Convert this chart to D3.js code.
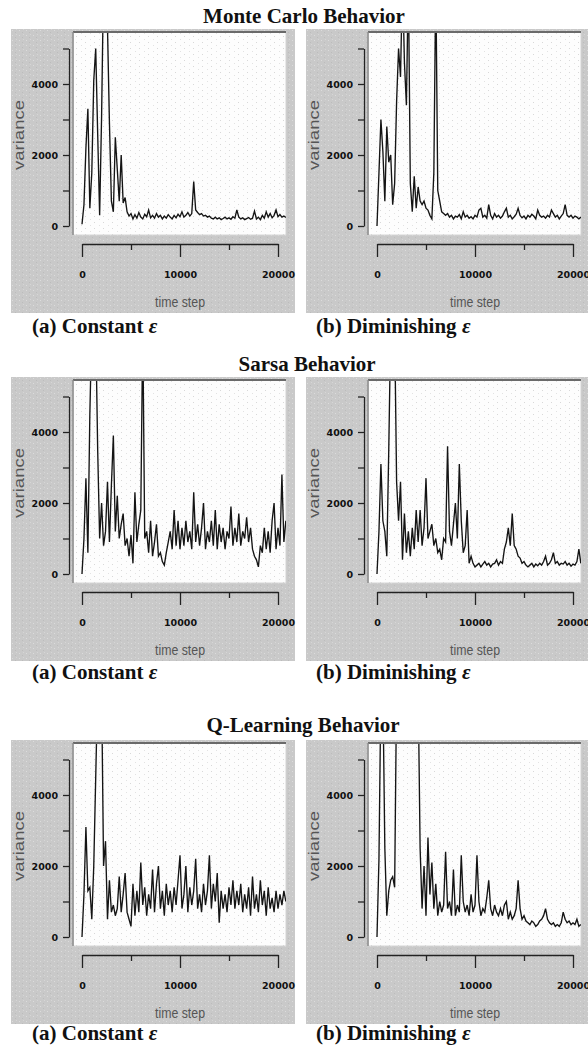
<!DOCTYPE html>
<html>
<head>
<meta charset="utf-8">
<script src="https://cdn.jsdelivr.net/npm/d3@7"></script>
<style>
  body { margin: 0; background: #fff; }
</style>
</head>
<body>
<div id="chart"></div>
<script>
const sampleEvery = 200

const mcConstant = [
  50, 600, 2200, 3300, 500, 1500, 4100, 5000, 2600, 300,
  3100, 7000, 7000, 5600, 2900, 700, 400, 2500, 1600, 700,
  2000, 650, 800, 400, 280, 350, 200, 320, 220, 380,
  250, 200, 330, 260, 450, 230, 300, 220, 350, 250,
  300, 200, 280, 220, 320, 250, 200, 300, 230, 330,
  260, 400, 250, 300, 380, 280, 350, 1250, 450, 380,
  320, 350, 280, 300, 250, 280, 220, 200, 250, 200,
  230, 180, 210, 250, 200, 230, 190, 260, 220, 450,
  250, 200, 230, 180, 210, 240, 190, 220, 420, 200,
  250, 180, 300, 220, 400, 250, 350, 230, 300, 450,
  260, 320, 250, 280, 240
]

const mcDiminishing = [
  0, 1500, 3000, 2100, 700, 2800, 1800, 2000, 600, 1200,
  3500, 5000, 4200, 7000, 4600, 3400, 7000, 1200, 400, 1400,
  500, 1100, 700, 600, 700, 500, 450, 300, 200, 1500,
  7000, 1000, 700, 400, 350, 300, 350, 250, 300, 200,
  280, 250, 320, 200, 400, 250, 300, 220, 260, 200,
  300, 250, 450, 500, 250, 300, 220, 600, 300, 200,
  350, 250, 300, 220, 280, 400, 500, 250, 300, 200,
  260, 330, 500, 300, 230, 280, 200, 300, 250, 330,
  280, 200, 450, 300, 250, 280, 220, 300, 250, 450,
  350, 250, 300, 200, 280, 350, 600, 300, 250, 300,
  220, 280, 250, 200, 250
]

const sarsaConstant = [
  0, 1000, 2700, 600, 4500, 7000, 7000, 7000, 3500, 1000,
  2000, 800, 1200, 2600, 900, 2500, 3900, 1200, 2200, 1000,
  1400, 1700, 800, 1000, 500, 1100, 300, 2300, 900, 1400,
  1800, 7000, 1000, 1200, 600, 1500, 500, 900, 1400, 500,
  600, 350, 250, 600, 900, 1200, 700, 1800, 800, 1500,
  700, 1300, 800, 1500, 900, 1200, 700, 2300, 900, 1400,
  800, 1300, 2000, 700, 1200, 900, 1500, 800, 1800, 700,
  1400, 900, 1300, 700, 1200, 1000, 1900, 800, 1300, 900,
  1700, 800, 1200, 1000, 1600, 900, 1300, 700, 500, 400,
  200, 800, 600, 1300, 700, 1200, 600, 1500, 2000, 700,
  1300, 800, 2800, 900, 1500
]

const sarsaDiminishing = [
  0, 1200, 3100, 1500, 1200, 500, 3500, 7000, 7000, 7000,
  2600, 1500, 2600, 400, 1700, 600, 1200, 500, 1300, 700,
  1800, 900, 1800, 800, 1300, 2700, 1000, 1200, 1400, 800,
  1000, 600, 700, 400, 1000, 900, 3600, 1200, 800, 1400,
  2000, 1000, 3100, 1500, 600, 800, 1800, 300, 500, 300,
  200, 250, 300, 200, 280, 350, 250, 300, 200, 280,
  300, 400, 250, 350, 300, 700, 900, 1300, 800, 1700,
  800, 700, 500, 450, 300, 350, 250, 200, 250, 300,
  200, 280, 230, 300, 250, 350, 500, 250, 300, 400,
  600, 300, 350, 250, 300, 280, 350, 250, 300, 220,
  280, 250, 350, 700, 300
]

const qConstant = [
  0, 1200, 3100, 1300, 1400, 500, 2000, 4500, 7000, 7000,
  7000, 2000, 2700, 500, 1600, 700, 900, 600, 800, 1700,
  700, 1200, 1800, 700, 500, 300, 1500, 600, 1300, 700,
  2100, 900, 1400, 600, 1200, 800, 1900, 700, 1500, 2000,
  800, 1300, 600, 1500, 900, 1300, 700, 1400, 900, 1600,
  2300, 800, 1200, 2000, 700, 1400, 900, 1300, 2200, 800,
  1200, 700, 1500, 900, 1300, 2300, 800, 1500, 1000, 1800,
  400, 1300, 800, 1200, 700, 1400, 900, 1600, 800, 1300,
  900, 1500, 700, 1200, 800, 1400, 600, 1700, 800, 1200,
  700, 1600, 900, 1300, 600, 1400, 800, 1100, 700, 1300,
  800, 1200, 900, 1300, 1000
]

const qDiminishing = [
  0, 2200, 7000, 7000, 2500, 600, 1300, 1600, 1700, 1400,
  7000, 7000, 7000, 7000, 7000, 7000, 7000, 7000, 7000, 7000,
  7000, 7000, 2500, 800, 2000, 600, 2800, 1200, 2100, 800,
  1500, 600, 1000, 700, 900, 2400, 800, 1000, 600, 1900,
  600, 900, 700, 2300, 1000, 700, 900, 600, 1200, 700,
  900, 2300, 1000, 600, 800, 700, 1100, 1600, 800, 600,
  900, 700, 600, 800, 600, 900, 1000, 500, 700, 500,
  600, 800, 1600, 800, 500, 600, 450, 400, 350, 450,
  400, 300, 350, 450, 500, 600, 800, 500, 400, 350,
  400, 300, 350, 300, 400, 700, 500, 400, 450, 350,
  400, 350, 500, 300, 350
]

const sectionTitles = ['Monte Carlo Behavior', 'Sarsa Behavior', 'Q-Learning Behavior']
const sectionSeries = [
  [mcConstant, mcDiminishing],
  [sarsaConstant, sarsaDiminishing],
  [qConstant, qDiminishing],
]
const captionTexts = ['(a) Constant ', '(b) Diminishing ']

const xTickValues = [0, 5000, 10000, 15000, 20000]
const xLabelled = [0, 10000, 20000]
const yTickValues = [0, 1000, 2000, 3000, 4000, 5000]
const yLabelled = [0, 2000, 4000]

// page layout
const width = 588, height = 1050
const panelSize = 284
const panelLefts = [11, 306]
const rowTops = [29, 377, 740]
const titleSpots = [[304, 23], [307, 371], [303, 732]]
const captionBaselines = [333, 679, 1040]
const captionLefts = [32, 316]

const svg = d3.select('#chart').append('svg')
    .attr('width', width)
    .attr('height', height)

const defs = svg.append('defs')

// speckled grey of the screenshot background
const grain = defs.append('pattern')
    .attr('id', 'grain')
    .attr('patternUnits', 'userSpaceOnUse')
    .attr('width', 7).attr('height', 5)
grain.append('rect').attr('width', 7).attr('height', 5).attr('fill', '#c9c9c9')
grain.append('rect').attr('x', 1).attr('y', 1).attr('width', 1).attr('height', 1).attr('fill', '#dcdcdc')
grain.append('rect').attr('x', 4).attr('y', 3).attr('width', 1).attr('height', 1).attr('fill', '#bcbcbc')
grain.append('rect').attr('x', 5).attr('y', 0).attr('width', 1).attr('height', 1).attr('fill', '#d6d6d6')

// faint dotted plot area
const dots = defs.append('pattern')
    .attr('id', 'dots')
    .attr('patternUnits', 'userSpaceOnUse')
    .attr('width', 9).attr('height', 6)
dots.append('rect').attr('width', 9).attr('height', 6).attr('fill', '#fdfdfd')
dots.append('rect').attr('x', 2).attr('y', 1).attr('width', 1).attr('height', 1).attr('fill', '#d8d8d8')
dots.append('rect').attr('x', 7).attr('y', 4).attr('width', 1).attr('height', 1).attr('fill', '#e2e2e2')

const serif = '"Liberation Serif", "Times New Roman", serif'
const sans = '"Liberation Sans", Arial, sans-serif'

function drawPanel(g, values, id) {
    const xScale = d3.scaleLinear().domain([0, 20000]).range([71, 267])
    const yScale = d3.scaleLinear().domain([0, 5000]).range([197, 19.5])

    g.append('rect')
        .attr('width', panelSize).attr('height', panelSize)
        .attr('fill', 'url(#grain)')

    // plot box
    const plot = {x: 62, y: 3, w: 213, h: 203}
    g.append('rect')
        .attr('x', plot.x).attr('y', plot.y)
        .attr('width', plot.w).attr('height', plot.h)
        .attr('fill', 'url(#dots)')
        .attr('stroke', '#d4d4d4')
    g.append('line')
        .attr('x1', plot.x).attr('x2', plot.x + plot.w)
        .attr('y1', plot.y).attr('y2', plot.y)
        .attr('stroke', '#6a6a6a').attr('stroke-width', 2)
    g.append('line')
        .attr('x1', plot.x).attr('x2', plot.x)
        .attr('y1', plot.y).attr('y2', plot.y + plot.h)
        .attr('stroke', '#8a8a8a').attr('stroke-width', 1.5)

    defs.append('clipPath').attr('id', 'clip' + id)
      .append('rect')
        .attr('x', plot.x + 1).attr('y', plot.y + 1)
        .attr('width', plot.w - 1).attr('height', plot.h - 1)

    const line = d3.line()
        .x((d, i) => xScale(i * sampleEvery))
        .y(d => yScale(d))

    g.append('path')
        .datum(values)
        .attr('clip-path', `url(#clip${id})`)
        .attr('d', line)
        .attr('fill', 'none')
        .attr('stroke', '#141414')
        .attr('stroke-width', 1.35)
        .attr('stroke-linejoin', 'miter')

    // axes sit outside the plot box
    const yAxis = d3.axisLeft(yScale)
        .tickValues(yTickValues)
        .tickSize(6)
        .tickSizeOuter(0)
        .tickPadding(5)
        .tickFormat(d => yLabelled.includes(d) ? d : '')
    const yg = g.append('g')
        .attr('transform', 'translate(58,0)')
        .call(yAxis)

    const xAxis = d3.axisBottom(xScale)
        .tickValues(xTickValues)
        .tickSizeInner(13)
        .tickSizeOuter(0)
        .tickFormat(d => xLabelled.includes(d) ? d : '')
    const xg = g.append('g')
        .attr('transform', 'translate(0,215)')
        .call(xAxis)
    xg.selectAll('.tick')
        .filter(d => !xLabelled.includes(d))
        .select('line').attr('y2', 6)
    xg.selectAll('.tick text').attr('y', 27)

    for (const ax of [xg, yg]) {
        ax.attr('font-family', '"DejaVu Sans", sans-serif')
          .attr('font-size', 9.5)
          .attr('font-weight', 'bold')
        ax.select('.domain').attr('stroke', '#222').attr('stroke-width', 1.3)
        ax.selectAll('.tick line').attr('stroke', '#222').attr('stroke-width', 1.3)
        ax.selectAll('.tick text').attr('fill', '#111')
    }

    g.append('text')
        .attr('transform', 'translate(13,106) rotate(-90)')
        .attr('text-anchor', 'middle')
        .attr('font-family', sans)
        .attr('font-size', 15)
        .attr('fill', '#555')
        .attr('textLength', 70)
        .attr('lengthAdjust', 'spacingAndGlyphs')
        .text('variance')

    g.append('text')
        .attr('x', 169).attr('y', 278)
        .attr('text-anchor', 'middle')
        .attr('font-family', sans)
        .attr('font-size', 14)
        .attr('fill', '#555')
        .attr('textLength', 50)
        .attr('lengthAdjust', 'spacingAndGlyphs')
        .text('time step')
}

sectionTitles.forEach((title, row) => {
    svg.append('text')
        .attr('x', titleSpots[row][0])
        .attr('y', titleSpots[row][1])
        .attr('text-anchor', 'middle')
        .attr('font-family', serif)
        .attr('font-weight', 'bold')
        .attr('font-size', 21)
        .attr('fill', '#111')
        .text(title)

    sectionSeries[row].forEach((values, col) => {
        const g = svg.append('g')
            .attr('transform', `translate(${panelLefts[col]},${rowTops[row]})`)
        drawPanel(g, values, `${row}-${col}`)

        const cap = svg.append('text')
            .attr('x', captionLefts[col])
            .attr('y', captionBaselines[row])
            .attr('font-family', serif)
            .attr('font-weight', 'bold')
            .attr('font-size', 21)
            .attr('fill', '#111')
        cap.append('tspan').text(captionTexts[col])
        cap.append('tspan').attr('font-style', 'italic').text('ε')
    })
})
</script>
</body>
</html>
